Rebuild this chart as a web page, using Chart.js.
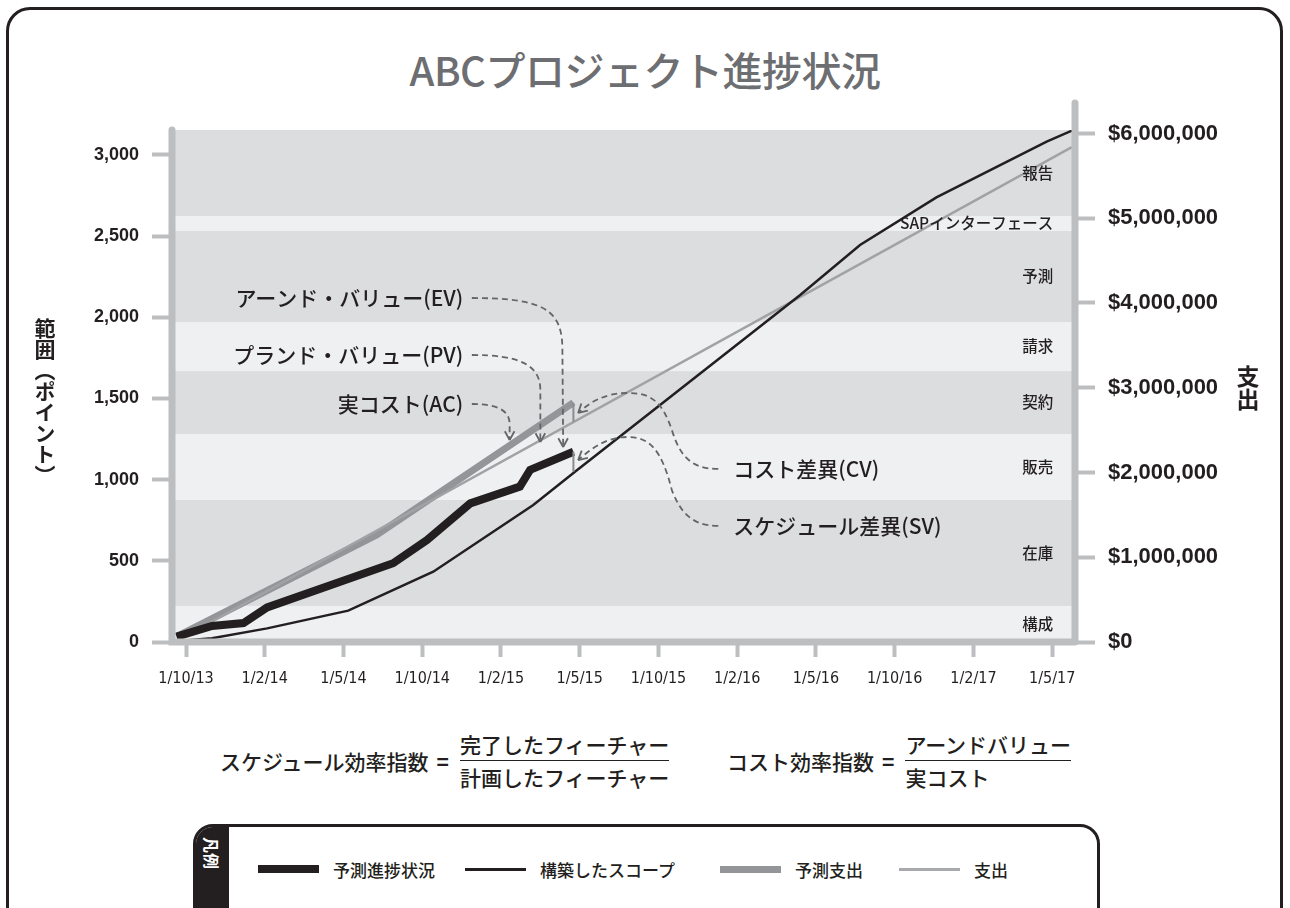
<!DOCTYPE html>
<html lang="ja">
<head>
  <meta charset="UTF-8">
  <title>ABCプロジェクト進捗状況</title>
  <script src="https://cdn.jsdelivr.net/npm/chart.js"></script>
  <style>
    body {
      margin: 0;
      background: #fff;
      color: #231f20;
      font-family: "Noto Sans CJK JP", sans-serif;
    }

    #page {
      position: relative;
      width: 1290px;
      height: 908px;
      overflow: hidden;
    }

    #frame {
      position: absolute;
      left: 6px;
      top: 7px;
      width: 1271px;
      height: 960px;
      border: 3px solid #231f20;
      border-radius: 24px;
    }

    h1 {
      position: absolute;
      left: 0;
      top: 43px;
      width: 1290px;
      margin: 0;
      text-align: center;
      font-size: 40px;
      line-height: 52px;
      letter-spacing: -0.5px;
      font-weight: 500;
      color: #6d6e71;
    }

    canvas {
      position: absolute;
      left: 0;
      top: 0;
    }

    .vtitle {
      position: absolute;
      writing-mode: vertical-rl;
      font-weight: 700;
      line-height: 1;
    }

    .formula {
      position: absolute;
      display: flex;
      align-items: center;
      font-size: 21px;
      font-weight: 500;
      line-height: 26px;
    }

    .formula .eq {
      margin: 0 11px 0 8px;
      font-weight: 700;
    }

    .frac {
      display: flex;
      flex-direction: column;
    }

    .frac .num {
      border-bottom: 1.5px solid #231f20;
      padding-bottom: 3px;
    }

    .frac .den {
      padding-top: 3px;
    }

    #legend {
      position: absolute;
      left: 193px;
      top: 824px;
      width: 901px;
      height: 140px;
      border: 3px solid #231f20;
      border-radius: 20px;
      overflow: hidden;
    }

    #legend .tab {
      position: absolute;
      left: 0;
      top: 0;
      width: 33px;
      height: 100%;
      background: #231f20;
    }

    #legend .tab span {
      position: absolute;
      left: 7px;
      top: 10px;
      writing-mode: vertical-rl;
      text-orientation: sideways;
      color: #fff;
      font-size: 16px;
      font-weight: 700;
      line-height: 18px;
    }

    .item {
      position: absolute;
      top: 30px;
      display: flex;
      align-items: center;
      height: 24px;
      font-size: 17px;
      font-weight: 500;
    }

    .item i {
      display: inline-block;
      width: 61px;
      margin-right: 14px;
    }
  </style>
</head>
<body>
<div id="page">
  <div id="frame"></div>
  <h1>ABCプロジェクト進捗状況</h1>
  <canvas id="progressChart" width="1290" height="700"></canvas>

  <div class="vtitle" style="left:34px; top:318px; font-size:21px;">範囲（ポイント）</div>
  <div class="vtitle" style="left:1236px; top:365px; font-size:23px;">支出</div>

  <div class="formula" style="left:220px; top:731px;">
    <span>スケジュール効率指数</span><span class="eq">=</span>
    <span class="frac"><span class="num">完了したフィーチャー</span><span class="den">計画したフィーチャー</span></span>
  </div>
  <div class="formula" style="left:727px; top:731px;">
    <span>コスト効率指数</span><span class="eq">=</span>
    <span class="frac"><span class="num">アーンドバリュー</span><span class="den">実コスト</span></span>
  </div>

  <div id="legend">
    <div class="tab"><span>凡例</span></div>
    <div class="item" style="left:62px;"><i style="height:8px; background:#231f20;"></i>予測進捗状況</div>
    <div class="item" style="left:269px;"><i style="height:3px; background:#231f20;"></i>構築したスコープ</div>
    <div class="item" style="left:524px;"><i style="height:7px; background:#939598;"></i>予測支出</div>
    <div class="item" style="left:703px;"><i style="height:3px; background:#a7a9ac;"></i>支出</div>
  </div>
</div>

<script>
  // x axis: one unit per tick label (labels are evenly spaced)
  const xLabels = ['1/10/13', '1/2/14', '1/5/14', '1/10/14', '1/2/15', '1/5/15',
                   '1/10/15', '1/2/16', '1/5/16', '1/10/16', '1/2/17', '1/5/17'];
  const pointTicks = [0, 500, 1000, 1500, 2000, 2500, 3000];
  const spendTicks = [0, 1000000, 2000000, 3000000, 4000000, 5000000, 6000000];

  // [x, points]
  const progress = [[-0.12, 33], [0.33, 99], [0.73, 117], [1.03, 213], [2.63, 485], [3.06, 628],
                    [3.61, 854], [4.24, 957], [4.37, 1060], [4.92, 1172]];
  const scope = [[-0.05, 8], [0.33, 23], [1.03, 84], [2.06, 193], [3.14, 433], [4.41, 844],
                 [4.94, 1049], [7.80, 2138], [8.56, 2446], [9.53, 2739], [10.93, 3082], [11.25, 3150]];
  // [x, dollars]
  const forecastSpend = [[-0.12, 63000], [2.42, 1263000], [4.92, 2824000]];
  const spend = [[-0.12, 12000], [11.25, 5840000]];

  // phase bands (points)
  const bandEdges = [0, 222, 875, 1281, 1669, 1971, 2532, 2624, 3154];
  const bandNames = ['構成', '在庫', '販売', '契約', '請求', '予測', 'SAPインターフェース', '報告'];

  // variance markers
  const cvMark = [4.92, 2824000, 2600000];   // x, dollars from, dollars to
  const svMark = [4.92, 1172, 1049];         // x, points from, points to

  // callouts: text anchor + dashed path, in [x, points]
  const callouts = [
    { text: 'アーンド・バリュー(EV)', align: 'right', at: [3.52, 2119],
      path: [['M', [3.63, 2119]], ['C', [4.56, 2119], [4.78, 2045], [4.78, 1799]], ['L', [4.79, 1201]]] },
    { text: 'プランド・バリュー(PV)', align: 'right', at: [3.52, 1768],
      path: [['M', [3.63, 1768]], ['C', [4.24, 1768], [4.50, 1706], [4.50, 1552]], ['L', [4.50, 1232]]] },
    { text: '実コスト(AC)', align: 'right', at: [3.52, 1466],
      path: [['M', [3.63, 1466]], ['C', [3.92, 1466], [4.11, 1435], [4.11, 1343]], ['L', [4.11, 1244]]] },
    { text: 'コスト差異(CV)', align: 'left', at: [6.95, 1066],
      path: [['M', [6.76, 1066]], ['C', [6.40, 1066], [6.27, 1152], [6.17, 1306]],
             ['C', [6.04, 1491], [5.89, 1534], [5.61, 1534]], ['C', [5.32, 1534], [5.13, 1478], [4.98, 1411]]] },
    { text: 'スケジュール差異(SV)', align: 'left', at: [6.95, 715],
      path: [['M', [6.76, 715]], ['C', [6.40, 715], [6.27, 813], [6.17, 936]],
             ['C', [6.04, 1183], [5.89, 1263], [5.61, 1263]], ['C', [5.32, 1263], [5.13, 1183], [4.98, 1121]]] }
  ];

  const toXY = arr => arr.map(p => ({ x: p[0], y: p[1] }));
  const axisGray = '#bcbec0';

  const bandsPlugin = {
    id: 'bands',
    beforeDatasetsDraw(chart) {
      const { ctx, chartArea: a, scales: { y } } = chart;
      ctx.save();
      for (let i = 0; i < bandNames.length; i++) {
        const top = y.getPixelForValue(bandEdges[i + 1]);
        const bot = y.getPixelForValue(bandEdges[i]);
        ctx.fillStyle = i % 2 ? '#dcdddf' : '#eff0f1';
        ctx.fillRect(a.left, top, a.right - a.left, bot - top);
      }
      ctx.restore();
    },
    afterDatasetsDraw(chart) {
      const { ctx, scales: { x, y } } = chart;
      ctx.save();
      ctx.fillStyle = '#231f20';
      ctx.font = '500 15.5px "Noto Sans CJK JP"';
      ctx.textAlign = 'right';
      ctx.textBaseline = 'middle';
      for (let i = 0; i < bandNames.length; i++) {
        const mid = (y.getPixelForValue(bandEdges[i + 1]) + y.getPixelForValue(bandEdges[i])) / 2;
        ctx.fillText(bandNames[i], x.getPixelForValue(11) + 1, mid);
      }
      ctx.restore();
    }
  };

  const overlayPlugin = {
    id: 'overlay',
    afterDatasetsDraw(chart) {
      const { ctx, chartArea: a, scales: { x, y, y1 } } = chart;
      const P = p => [x.getPixelForValue(p[0]), y.getPixelForValue(p[1])];
      ctx.save();

      // axis lines
      ctx.strokeStyle = axisGray;
      ctx.lineWidth = 7;
      ctx.lineCap = 'round';
      ctx.beginPath();
      ctx.moveTo(a.left, a.top);
      ctx.lineTo(a.left, a.bottom);
      ctx.lineTo(a.right, a.bottom);
      ctx.moveTo(a.right, a.top - 27);
      ctx.lineTo(a.right, a.bottom);
      ctx.stroke();

      // variance markers
      ctx.lineCap = 'butt';
      ctx.lineWidth = 2;
      ctx.strokeStyle = '#8a8c8e';
      ctx.beginPath();
      ctx.moveTo(x.getPixelForValue(cvMark[0]), y1.getPixelForValue(cvMark[1]));
      ctx.lineTo(x.getPixelForValue(cvMark[0]), y1.getPixelForValue(cvMark[2]));
      ctx.moveTo(x.getPixelForValue(svMark[0]), y.getPixelForValue(svMark[1]));
      ctx.lineTo(x.getPixelForValue(svMark[0]), y.getPixelForValue(svMark[2]));
      ctx.stroke();

      // callouts
      ctx.font = '500 21px "Noto Sans CJK JP"';
      ctx.textBaseline = 'middle';
      callouts.forEach(c => {
        ctx.fillStyle = '#231f20';
        ctx.textAlign = c.align;
        const t = P(c.at);
        ctx.fillText(c.text, t[0], t[1]);

        ctx.strokeStyle = '#646567';
        ctx.lineWidth = 1.8;
        ctx.setLineDash([6, 4]);
        ctx.beginPath();
        let prev = null, last = null;
        c.path.forEach(seg => {
          const pts = seg.slice(1).map(P);
          if (seg[0] === 'M') ctx.moveTo(...pts[0]);
          else if (seg[0] === 'L') ctx.lineTo(...pts[0]);
          else ctx.bezierCurveTo(...pts[0], ...pts[1], ...pts[2]);
          prev = pts.length > 1 ? pts[pts.length - 2] : last;
          last = pts[pts.length - 1];
        });
        ctx.stroke();
        ctx.setLineDash([]);

        // open arrow head
        const ang = Math.atan2(last[1] - prev[1], last[0] - prev[0]);
        ctx.beginPath();
        [-1, 1].forEach(s => {
          ctx.moveTo(last[0] - 10 * Math.cos(ang + s * 0.5), last[1] - 10 * Math.sin(ang + s * 0.5));
          ctx.lineTo(last[0], last[1]);
        });
        ctx.stroke();
      });
      ctx.restore();
    }
  };

  const tickFont = { family: '"Liberation Sans", sans-serif', weight: 'bold' };

  new Chart(document.getElementById('progressChart'), {
    type: 'line',
    data: {
      datasets: [
        { label: '予測進捗状況', data: toXY(progress), yAxisID: 'y', borderColor: '#231f20', borderWidth: 8, order: 0 },
        { label: '構築したスコープ', data: toXY(scope), yAxisID: 'y', borderColor: '#231f20', borderWidth: 2.5, order: 1 },
        { label: '支出', data: toXY(spend), yAxisID: 'y1', borderColor: '#a0a2a4', borderWidth: 2.5, order: 2 },
        { label: '予測支出', data: toXY(forecastSpend), yAxisID: 'y1', borderColor: '#939598', borderWidth: 7, order: 3 }
      ]
    },
    options: {
      responsive: false,
      animation: false,
      devicePixelRatio: 1,
      elements: { point: { radius: 0 }, line: { tension: 0 } },
      layout: { padding: { top: 130, left: 0, right: 0, bottom: 0 } },
      plugins: { legend: { display: false }, tooltip: { enabled: false } },
      scales: {
        x: {
          type: 'linear',
          min: -0.178,
          max: 11.29,
          afterBuildTicks: s => { s.ticks = xLabels.map((_, i) => ({ value: i })); },
          afterFit: s => { s.height = 58; },
          ticks: {
            callback: v => xLabels[v],
            color: '#231f20',
            font: { family: '"DejaVu Sans Condensed", sans-serif', size: 16 },
            padding: 12,
            maxRotation: 0,
            autoSkip: false
          },
          grid: { drawOnChartArea: false, tickLength: 15, tickWidth: 4, tickColor: axisGray },
          border: { display: false }
        },
        y: {
          position: 'left',
          min: 0,
          max: 3154,
          afterBuildTicks: s => { s.ticks = pointTicks.map(v => ({ value: v })); },
          afterFit: s => { s.width = 172; },
          ticks: {
            callback: v => v.toLocaleString('en-US'),
            color: '#231f20',
            font: { ...tickFont, size: 18 },
            padding: 13
          },
          grid: { drawOnChartArea: false, tickLength: 20, tickWidth: 4, tickColor: axisGray },
          border: { display: false }
        },
        y1: {
          position: 'right',
          min: 0,
          max: 6041000,
          afterBuildTicks: s => { s.ticks = spendTicks.map(v => ({ value: v })); },
          afterFit: s => { s.width = 215; },
          ticks: {
            callback: v => '$' + v.toLocaleString('en-US'),
            color: '#231f20',
            font: { ...tickFont, size: 22 },
            padding: 13
          },
          grid: { drawOnChartArea: false, tickLength: 20, tickWidth: 4, tickColor: axisGray },
          border: { display: false }
        }
      }
    },
    plugins: [bandsPlugin, overlayPlugin]
  });
</script>
</body>
</html>
